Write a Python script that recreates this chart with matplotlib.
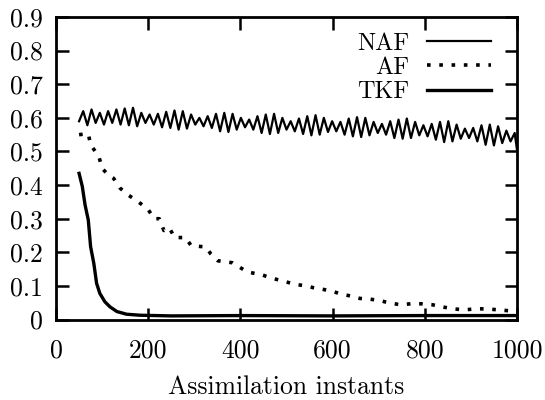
import matplotlib
matplotlib.use("Agg")
import matplotlib.pyplot as plt

plt.rcParams['font.family'] = ['cmr10', 'DejaVu Serif']
plt.rcParams['axes.unicode_minus'] = False
plt.rcParams['axes.formatter.use_mathtext'] = True

# NAF series (assimilation instant, value)
naf_x = [50, 59, 68, 77, 86, 95, 104, 113, 122, 131, 140, 149, 158, 167, 176, 185, 194,
         203, 212, 221, 230, 239, 248, 257, 266, 275, 284, 293, 302, 311, 320, 329, 338,
         347, 356, 365, 374, 383, 392, 401, 410, 419, 428, 437, 446, 455, 464, 473, 482,
         491, 500, 509, 518, 527, 536, 545, 554, 563, 572, 581, 590, 599, 608, 617, 626,
         635, 644, 653, 662, 671, 680, 689, 698, 707, 716, 725, 734, 743, 752, 761, 770,
         779, 788, 797, 806, 815, 824, 833, 842, 851, 860, 869, 878, 887, 896, 905, 914,
         923, 932, 941, 950, 959, 968, 977, 986, 995, 1000]
naf_y = [0.590, 0.620, 0.578, 0.625, 0.585, 0.615, 0.580, 0.620, 0.585, 0.625, 0.580,
         0.628, 0.578, 0.630, 0.575, 0.615, 0.585, 0.610, 0.580, 0.612, 0.572, 0.618,
         0.570, 0.622, 0.565, 0.620, 0.568, 0.610, 0.580, 0.600, 0.575, 0.605, 0.570,
         0.612, 0.560, 0.615, 0.558, 0.612, 0.565, 0.600, 0.572, 0.595, 0.565, 0.605,
         0.555, 0.610, 0.552, 0.612, 0.555, 0.600, 0.565, 0.590, 0.560, 0.598, 0.552,
         0.605, 0.548, 0.608, 0.550, 0.600, 0.558, 0.590, 0.560, 0.588, 0.550, 0.598,
         0.545, 0.602, 0.543, 0.600, 0.548, 0.588, 0.555, 0.582, 0.550, 0.590, 0.540,
         0.595, 0.538, 0.598, 0.540, 0.588, 0.548, 0.578, 0.545, 0.582, 0.535, 0.588,
         0.528, 0.590, 0.530, 0.580, 0.538, 0.568, 0.540, 0.570, 0.530, 0.578, 0.520,
         0.580, 0.518, 0.575, 0.525, 0.562, 0.530, 0.555, 0.505]

# AF series
af_x = [50, 70, 75, 93, 100, 112, 125, 139, 156, 178, 200, 213, 224, 234, 246, 257, 281,
        293, 325, 336, 351, 383, 397, 414, 447, 466, 483, 505, 522, 540, 558, 579, 600,
        618, 640, 659, 680, 701, 722, 748, 769, 793, 817, 837, 862, 886, 911, 934, 959,
        985, 1000]
af_y = [0.550, 0.553, 0.520, 0.485, 0.450, 0.432, 0.420, 0.391, 0.371, 0.351, 0.327,
        0.300, 0.300, 0.265, 0.273, 0.244, 0.244, 0.220, 0.216, 0.195, 0.175, 0.169,
        0.157, 0.142, 0.133, 0.124, 0.118, 0.110, 0.104, 0.101, 0.095, 0.090, 0.084,
        0.076, 0.070, 0.063, 0.061, 0.057, 0.050, 0.044, 0.047, 0.047, 0.044, 0.038,
        0.032, 0.029, 0.032, 0.032, 0.029, 0.026, 0.022]

# TKF series
tkf_x = [50, 57, 63, 70, 75, 82, 88, 95, 106, 117, 132, 153, 182, 250, 400, 600, 800, 1000]
tkf_y = [0.435, 0.396, 0.341, 0.296, 0.217, 0.167, 0.108, 0.078, 0.053, 0.038, 0.024,
         0.016, 0.013, 0.011, 0.012, 0.011, 0.012, 0.012]

labels = ["NAF", "AF", "TKF"]
xticks = [0, 200, 400, 600, 800, 1000]
yticks = [0, 0.1, 0.2, 0.3, 0.4, 0.5, 0.6, 0.7, 0.8, 0.9]
xlabel = "Assimilation instants"

fig = plt.figure(figsize=(5.45, 4.0), dpi=100)
ax = fig.add_axes([0.1028, 0.201, 0.8458, 0.7565])

ax.plot(naf_x, naf_y, color='black', lw=1.6, label=labels[0])
ax.plot(af_x, af_y, color='black', lw=2.6, linestyle=(0, (1, 2.4)),
        dash_capstyle='butt', label=labels[1])
ax.plot(tkf_x, tkf_y, color='black', lw=2.4, label=labels[2])

ax.set_xlim(0, 1000)
ax.set_ylim(0, 0.9)
ax.set_xticks(xticks)
ax.set_xticklabels([str(t) for t in xticks])
ax.set_yticks(yticks)
ax.set_yticklabels(["0" if t == 0 else f"{t:.1f}" for t in yticks])

for s in ax.spines.values():
    s.set_linewidth(2.0)
ax.tick_params(direction='in', length=9, width=1.8, top=True, right=True,
               labelsize=18.5)
ax.tick_params(axis='y', pad=9.5)
ax.tick_params(axis='x', pad=14)
ax.set_xlabel(xlabel, fontsize=18.5, labelpad=9)

leg = ax.legend(loc='upper right', bbox_to_anchor=(0.965, 0.98), frameon=False,
                markerfirst=False, handlelength=2.65, handletextpad=0.7,
                labelspacing=0.08, fontsize=17.5, borderaxespad=0.0)
for t in leg.get_texts():
    t.set_ha('right')

fig.savefig("out.png", dpi=100)
